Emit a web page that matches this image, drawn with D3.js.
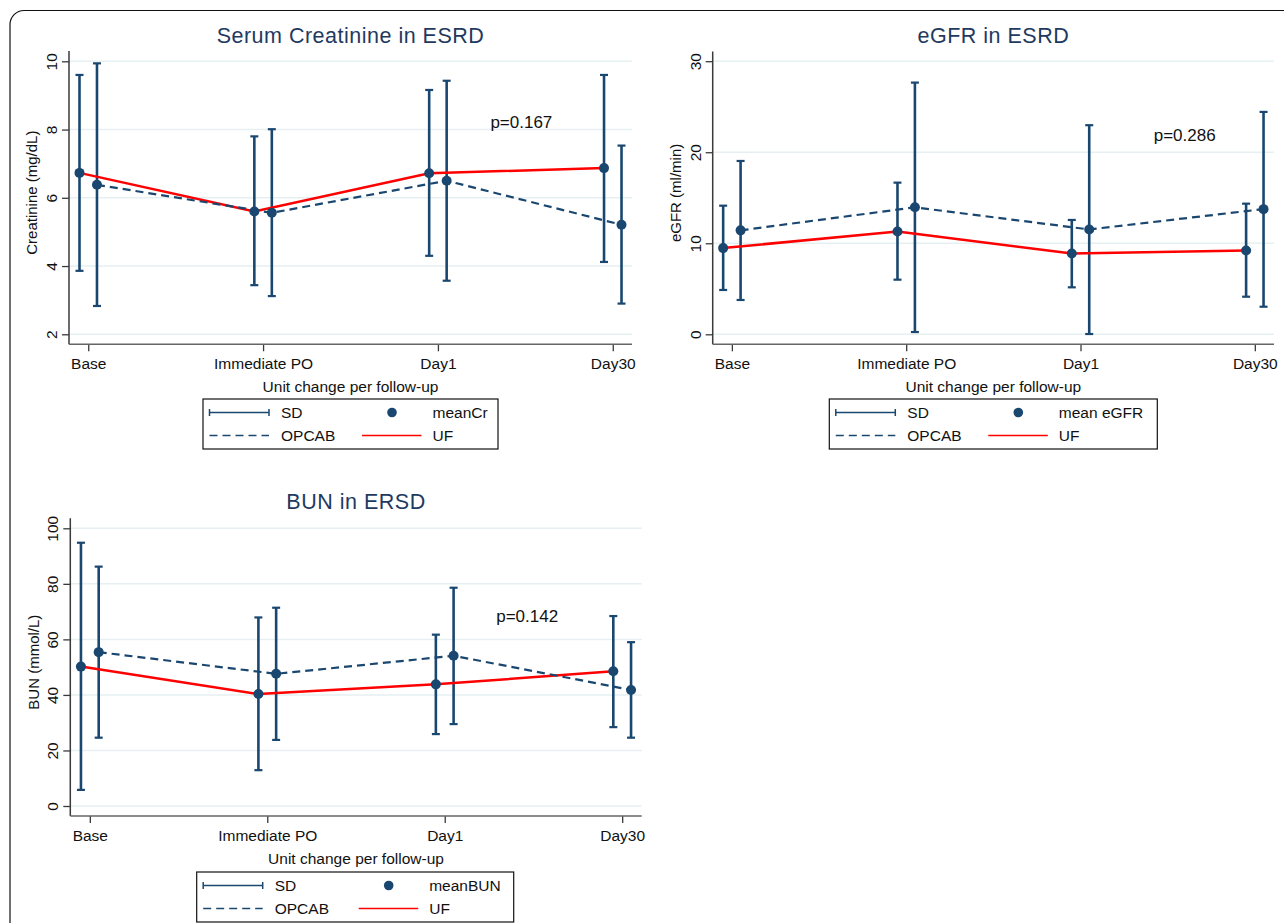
<!DOCTYPE html>
<html>
<head>
<meta charset="utf-8">
<script src="https://cdn.jsdelivr.net/npm/d3@7"></script>
<style>
  html, body { margin: 0; padding: 0; background: #fff; }
  svg { display: block; font-family: "Liberation Sans", Arial, Helvetica, sans-serif; }
</style>
</head>
<body>
<svg id="chart" width="1284" height="923"></svg>
<script>
// ---------------- DATA ----------------
const categories = ["Base", "Immediate PO", "Day1", "Day30"];

// Serum creatinine (mg/dL)
const crUFMean  = [6.73, 5.60, 6.72, 6.87];
const crUFLow   = [3.86, 3.44, 4.30, 4.12];
const crUFHigh  = [9.60, 7.80, 9.16, 9.60];
const crOPMean  = [6.38, 5.56, 6.50, 5.21];
const crOPLow   = [2.83, 3.12, 3.57, 2.90];
const crOPHigh  = [9.94, 8.01, 9.43, 7.53];
const crTicks   = [2, 4, 6, 8, 10];

// eGFR (ml/min)
const egUFMean  = [9.47, 11.30, 8.88, 9.20];
const egUFLow   = [4.87, 6.00, 5.16, 4.13];
const egUFHigh  = [14.13, 16.66, 12.56, 14.35];
const egOPMean  = [11.42, 13.95, 11.52, 13.75];
const egOPLow   = [3.77, 0.25, 0.03, 3.03];
const egOPHigh  = [19.04, 27.65, 22.97, 24.43];
const egTicks   = [0, 10, 20, 30];

// BUN (mmol/L)
const bunUFMean = [50.2, 40.3, 43.8, 48.5];
const bunUFLow  = [5.8, 12.9, 25.9, 28.4];
const bunUFHigh = [94.8, 67.9, 61.7, 68.4];
const bunOPMean = [55.4, 47.6, 54.1, 41.8];
const bunOPLow  = [24.6, 23.8, 29.5, 24.6];
const bunOPHigh = [86.2, 71.4, 78.6, 59.0];
const bunTicks  = [0, 20, 40, 60, 80, 100];

const pLabels = ["p=0.167", "p=0.286", "p=0.142"];
const meanLabels = ["meanCr", "mean eGFR", "meanBUN"];
const titles = ["Serum Creatinine in ESRD", "eGFR in ESRD", "BUN in ERSD"];
const yTitles = ["Creatinine (mg/dL)", "eGFR (ml/min)", "BUN (mmol/L)"];
const xTitle = "Unit change per follow-up";

// ---------------- STYLE / LAYOUT ----------------
const NAVY = "#1a476f";
const RED = "#ff0000";
const TITLE_COLOR = "#1f3a5f";
const AXIS_COLOR = "#3a3a3a";
const GRID_COLOR = "#e6eff1";
const OFFSET = 0.05;

const layouts = [
  { x0: 69,    x1: 632,   yTop: 51,    yAxisY: 344.3, yRange: [334.3, 61.3], domain: [2, 10],
    titleY: 43,  pPos: [3.30, 8.05], legend: { x: 203, y: 399, w: 295, col2: 0 } },
  { x0: 712.7, x1: 1274,  yTop: 51.5,  yAxisY: 344.3, yRange: [334.3, 61.2], domain: [0, 30],
    titleY: 43,  pPos: [3.42, 21.2], legend: { x: 829.3, y: 399, w: 328, col2: 0 } },
  { x0: 70.3,  x1: 641.7, yTop: 518.3, yAxisY: 816,   yRange: [806, 528.3],  domain: [0, 100],
    titleY: 509, pPos: [3.29, 66.3], legend: { x: 196.7, y: 872, w: 317, col2: 3 } }
];

const series = [
  { ticks: crTicks, uf: [crUFMean, crUFLow, crUFHigh], op: [crOPMean, crOPLow, crOPHigh] },
  { ticks: egTicks, uf: [egUFMean, egUFLow, egUFHigh], op: [egOPMean, egOPLow, egOPHigh] },
  { ticks: bunTicks, uf: [bunUFMean, bunUFLow, bunUFHigh], op: [bunOPMean, bunOPLow, bunOPHigh] }
];

const svg = d3.select("#chart");

// outer rounded frame (extends beyond canvas right/bottom)
svg.append("rect")
  .attr("x", 10).attr("y", 10.5)
  .attr("width", 1500).attr("height", 1200)
  .attr("rx", 14).attr("ry", 14)
  .attr("fill", "none").attr("stroke", "#111").attr("stroke-width", 1.2);

function drawPanel(i) {
  const L = layouts[i], S = series[i];
  const g = svg.append("g");
  const x = d3.scaleLinear().domain([0.89, 4.11]).range([L.x0, L.x1]);
  const y = d3.scaleLinear().domain(L.domain).range(L.yRange);

  // gridlines
  g.selectAll(".grid").data(S.ticks).enter().append("line")
    .attr("x1", L.x0).attr("x2", L.x1)
    .attr("y1", d => y(d)).attr("y2", d => y(d))
    .attr("stroke", GRID_COLOR).attr("stroke-width", 1.5);

  // y axis
  const yAxis = g.append("g").attr("transform", `translate(${L.x0},0)`)
    .call(d3.axisLeft(y).tickValues(S.ticks).tickSize(7).tickFormat(d3.format("d")));
  yAxis.select(".domain").remove();
  yAxis.selectAll(".tick line").attr("stroke", AXIS_COLOR).attr("stroke-width", 1.3);
  yAxis.selectAll(".tick text")
    .attr("x", 0).attr("dy", "0.35em")
    .attr("transform", "translate(-17.5,0) rotate(-90)")
    .attr("text-anchor", "middle")
    .attr("font-size", 15.5).attr("fill", "#111");

  // x axis
  const xAxis = g.append("g").attr("transform", `translate(0,${L.yAxisY})`)
    .call(d3.axisBottom(x).tickValues([1, 2, 3, 4]).tickSize(7).tickFormat((d, k) => categories[k]));
  xAxis.select(".domain").remove();
  xAxis.selectAll(".tick line").attr("stroke", AXIS_COLOR).attr("stroke-width", 1.3);
  xAxis.selectAll(".tick text")
    .attr("y", 25).attr("dy", 0)
    .attr("font-size", 15.5).attr("fill", "#111");

  // axis lines
  g.append("line").attr("x1", L.x0).attr("x2", L.x0).attr("y1", L.yTop).attr("y2", L.yAxisY)
    .attr("stroke", AXIS_COLOR).attr("stroke-width", 1.5);
  g.append("line").attr("x1", L.x0).attr("x2", L.x1).attr("y1", L.yAxisY).attr("y2", L.yAxisY)
    .attr("stroke", "#666").attr("stroke-width", 1.5);

  // titles
  g.append("text").attr("x", (L.x0 + L.x1) / 2).attr("y", L.titleY)
    .attr("text-anchor", "middle").attr("font-size", 21.5).attr("letter-spacing", 0.5)
    .attr("fill", TITLE_COLOR).text(titles[i]);
  g.append("text").attr("x", (L.x0 + L.x1) / 2).attr("y", L.yAxisY + 48)
    .attr("text-anchor", "middle").attr("font-size", 15.5).attr("fill", "#111").text(xTitle);
  const yMid = (L.yTop + L.yAxisY) / 2 - 5;
  g.append("text")
    .attr("transform", `translate(${L.x0 - 37},${yMid}) rotate(-90)`)
    .attr("dy", "0.35em").attr("text-anchor", "middle").attr("font-size", 15)
    .attr("fill", "#111").text(yTitles[i]);

  // data
  const groups = [
    { vals: S.uf, off: -OFFSET, line: RED, dash: null, w: 2.5 },
    { vals: S.op, off: OFFSET, line: NAVY, dash: "8,5", w: 2.2 }
  ];
  groups.forEach(grp => {
    const [mean, lo, hi] = grp.vals;
    const pts = categories.map((c, k) => ({ k: k + 1 + grp.off, m: mean[k], lo: lo[k], hi: hi[k] }));
    const eb = g.append("g");
    eb.selectAll(".v").data(pts).enter().append("line")
      .attr("x1", d => x(d.k)).attr("x2", d => x(d.k))
      .attr("y1", d => y(d.lo)).attr("y2", d => y(d.hi))
      .attr("stroke", NAVY).attr("stroke-width", 2.6);
    ["lo", "hi"].forEach(key => {
      eb.selectAll(".c" + key).data(pts).enter().append("line")
        .attr("x1", d => x(d.k) - 4).attr("x2", d => x(d.k) + 4)
        .attr("y1", d => y(d[key])).attr("y2", d => y(d[key]))
        .attr("stroke", NAVY).attr("stroke-width", 2.2);
    });
    grp.pts = pts;
  });
  groups.forEach(grp => {
    const ln = d3.line().x(d => x(d.k)).y(d => y(d.m));
    g.append("path").datum(grp.pts).attr("d", ln)
      .attr("fill", "none").attr("stroke", grp.line).attr("stroke-width", grp.w)
      .attr("stroke-dasharray", grp.dash);
  });
  groups.forEach(grp => {
    g.selectAll(null).data(grp.pts).enter().append("circle")
      .attr("cx", d => x(d.k)).attr("cy", d => y(d.m)).attr("r", 5)
      .attr("fill", NAVY);
  });

  // p-value
  g.append("text").attr("x", x(L.pPos[0])).attr("y", y(L.pPos[1]))
    .attr("font-size", 17).attr("fill", "#111").text(pLabels[i]);

  // legend
  const lg = L.legend;
  const lgG = g.append("g").attr("transform", `translate(${lg.x},${lg.y})`);
  lgG.append("rect").attr("width", lg.w).attr("height", 50)
    .attr("fill", "#fff").attr("stroke", "#111").attr("stroke-width", 1.2);
  const r1 = 13.5, r2 = 36.5, c2 = lg.col2;
  lgG.append("line").attr("x1", 6.5).attr("x2", 66).attr("y1", r1).attr("y2", r1)
    .attr("stroke", NAVY).attr("stroke-width", 1.5);
  [6.5, 66].forEach(xx => lgG.append("line").attr("x1", xx).attr("x2", xx)
    .attr("y1", r1 - 3.5).attr("y2", r1 + 3.5).attr("stroke", NAVY).attr("stroke-width", 1.5));
  lgG.append("text").attr("x", 78).attr("y", r1).attr("dy", "0.35em").attr("font-size", 15.5)
    .attr("fill", "#111").text("SD");
  lgG.append("circle").attr("cx", 189 + c2).attr("cy", r1).attr("r", 4.8).attr("fill", NAVY);
  lgG.append("text").attr("x", 229.5 + c2).attr("y", r1).attr("dy", "0.35em").attr("font-size", 15.5)
    .attr("fill", "#111").text(meanLabels[i]);
  lgG.append("line").attr("x1", 6.5).attr("x2", 66).attr("y1", r2).attr("y2", r2)
    .attr("stroke", NAVY).attr("stroke-width", 1.5).attr("stroke-dasharray", "8,5");
  lgG.append("text").attr("x", 78).attr("y", r2).attr("dy", "0.35em").attr("font-size", 15.5)
    .attr("fill", "#111").text("OPCAB");
  lgG.append("line").attr("x1", 159 + c2).attr("x2", 218.5 + c2).attr("y1", r2).attr("y2", r2)
    .attr("stroke", RED).attr("stroke-width", 1.5);
  lgG.append("text").attr("x", 229.5 + c2).attr("y", r2).attr("dy", "0.35em").attr("font-size", 15.5)
    .attr("fill", "#111").text("UF");
}

[0, 1, 2].forEach(drawPanel);
</script>
</body>
</html>
